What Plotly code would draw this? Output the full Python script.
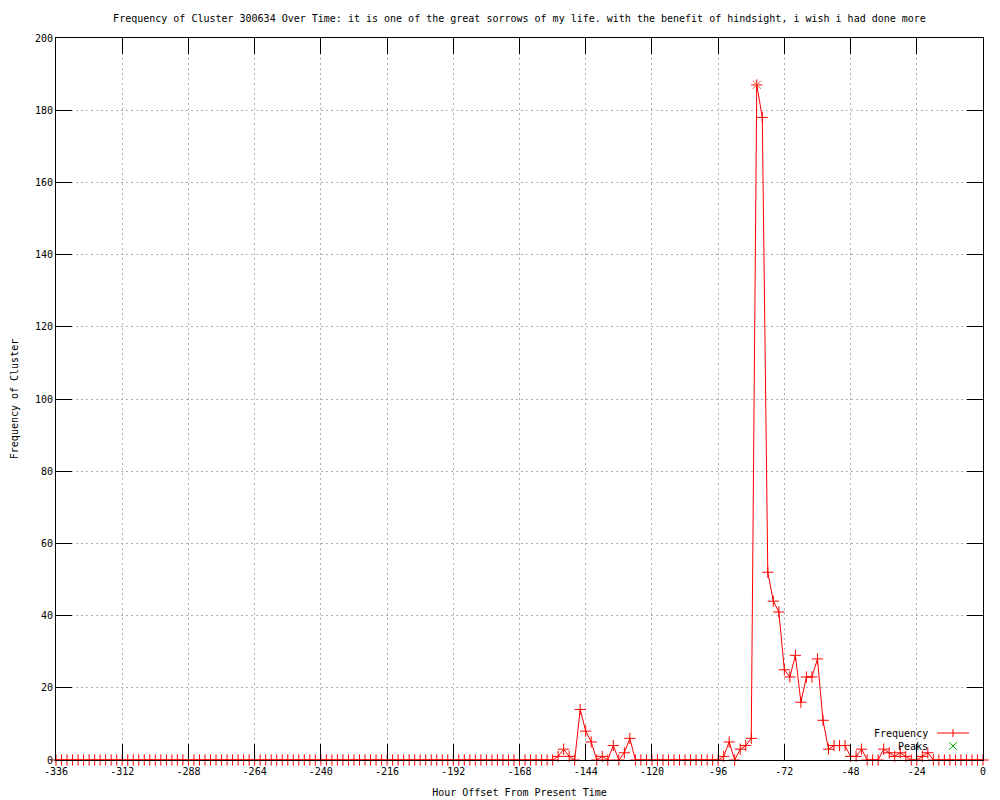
import plotly.graph_objects as go

# ---------------- data ----------------
hours = list(range(-336, 1, 2))  # sample hours, every 2 hours
frequency = [
    # -336 .. -156 (91 values)
    0, 0, 0, 0, 0, 0, 0, 0, 0, 0, 0, 0, 0, 0, 0, 0, 0, 0, 0, 0,
    0, 0, 0, 0, 0, 0, 0, 0, 0, 0, 0, 0, 0, 0, 0, 0, 0, 0, 0, 0,
    0, 0, 0, 0, 0, 0, 0, 0, 0, 0, 0, 0, 0, 0, 0, 0, 0, 0, 0, 0,
    0, 0, 0, 0, 0, 0, 0, 0, 0, 0, 0, 0, 0, 0, 0, 0, 0, 0, 0, 0,
    0, 0, 0, 0, 0, 0, 0, 0, 0, 0, 0,
    # -154 .. -126
    1, 3, 1, 0, 14, 8, 5, 0, 1, 0, 4, 0, 2, 6, 0,
    # -124 .. -96
    0, 0, 0, 0, 0, 0, 0, 0, 0, 0, 0, 0, 0, 0, 0,
    # -94 .. -20
    1, 5, 0, 3, 4, 6, 187, 178, 52, 44, 41, 25, 23, 29, 16, 23, 23, 28, 11,
    3, 4, 4, 4, 1, 1, 3, 0, 0, 0, 3, 2, 1, 2, 1, 0, 0, 1, 2,
    # -18 .. 0
    0, 0, 0, 0, 0, 0, 0, 0, 0, 0,
]
peak_hours = [-82]
peak_values = [187]

x_tick_vals = [-336, -312, -288, -264, -240, -216, -192, -168, -144, -120, -96, -72, -48, -24, 0]
x_tick_text = ["-336", "-312", "-288", "-264", "-240", "-216", "-192", "-168", "-144",
               "-120", "-96", "-72", "-48", "-24", "0"]
y_tick_vals = [0, 20, 40, 60, 80, 100, 120, 140, 160, 180, 200]
y_tick_text = ["0", "20", "40", "60", "80", "100", "120", "140", "160", "180", "200"]

title_text = ("Frequency of Cluster 300634 Over Time: it is one of the great sorrows of my life. "
              "with the benefit of hindsight, i wish i had done more")
legend_names = ["Frequency", "Peaks"]

# ---------------- style ----------------
FONT = "DejaVu Sans Mono"
RED = "#ff0000"
GREEN = "#00c000"
W, H = 1000, 800
L, R, T, B = 56, 17, 38, 40
PW, PH = W - L - R, H - T - B


def px_x(p):
    return (p - L) / PW


def px_y(p):
    return (H - B - p) / PH


fig = go.Figure()
fig.add_trace(go.Scatter(
    x=hours, y=frequency, mode="lines+markers", name=legend_names[0],
    line=dict(color=RED, width=1),
    marker=dict(symbol="cross-thin-open", size=8, line=dict(color=RED, width=1)),
    showlegend=False, cliponaxis=False,
))
fig.add_trace(go.Scatter(
    x=peak_hours, y=peak_values, mode="markers", name=legend_names[1],
    marker=dict(symbol="x-thin-open", size=8, line=dict(color=GREEN, width=1)),
    showlegend=False,
))

axis_common = dict(
    showline=True, linecolor="black", linewidth=1, mirror="ticks",
    ticks="inside", ticklen=16, tickcolor="black", tickwidth=1,
    showgrid=True, gridcolor="#b0b0b0", griddash="2px,3px", gridwidth=1,
    zeroline=False, automargin=False,
    tickfont=dict(family=FONT, size=10, color="black"),
)

fig.update_layout(
    width=W, height=H,
    margin=dict(l=L, r=R, t=T, b=B, autoexpand=False),
    paper_bgcolor="white", plot_bgcolor="white",
    font=dict(family=FONT, size=10, color="black"),
    title=dict(text=title_text, x=(L + PW / 2) / W, xanchor="center",
               y=1 - 18 / H, yanchor="middle", font=dict(family=FONT, size=10, color="black")),
    xaxis=dict(range=[-336, 0], tickvals=x_tick_vals, ticktext=x_tick_text,
               ticklabelstandoff=2,
               title=dict(text="Hour Offset From Present Time", font=dict(family=FONT, size=10),
                          standoff=12),
               **axis_common),
    yaxis=dict(range=[0, 200], tickvals=y_tick_vals, ticktext=y_tick_text,
               title=dict(text="Frequency of Cluster", font=dict(family=FONT, size=10),
                          standoff=14),
               **axis_common),
    showlegend=False,
)

# ---------------- custom gnuplot-style legend ----------------
legend_rows = [(733, RED, "cross"), (746, GREEN, "x")]
for name, (ypx, color, sym) in zip(legend_names, legend_rows):
    fig.add_annotation(xref="paper", yref="paper", x=px_x(930), y=px_y(ypx),
                       text=name, showarrow=False, xanchor="right", yanchor="middle",
                       font=dict(family=FONT, size=10, color="black"))
    cx, cy = 953, ypx
    if sym == "cross":
        fig.add_shape(type="line", xref="paper", yref="paper",
                      x0=px_x(937), x1=px_x(969), y0=px_y(cy), y1=px_y(cy),
                      line=dict(color=color, width=1))
        fig.add_shape(type="line", xref="paper", yref="paper",
                      x0=px_x(cx), x1=px_x(cx), y0=px_y(cy - 4), y1=px_y(cy + 4),
                      line=dict(color=color, width=1))
    else:
        for dx in (-4, 4):
            fig.add_shape(type="line", xref="paper", yref="paper",
                          x0=px_x(cx - dx), x1=px_x(cx + dx), y0=px_y(cy - 4), y1=px_y(cy + 4),
                          line=dict(color=color, width=1))

fig.write_html("out.html", config={"displayModeBar": False},
               post_script="document.body.style.margin='0';")
